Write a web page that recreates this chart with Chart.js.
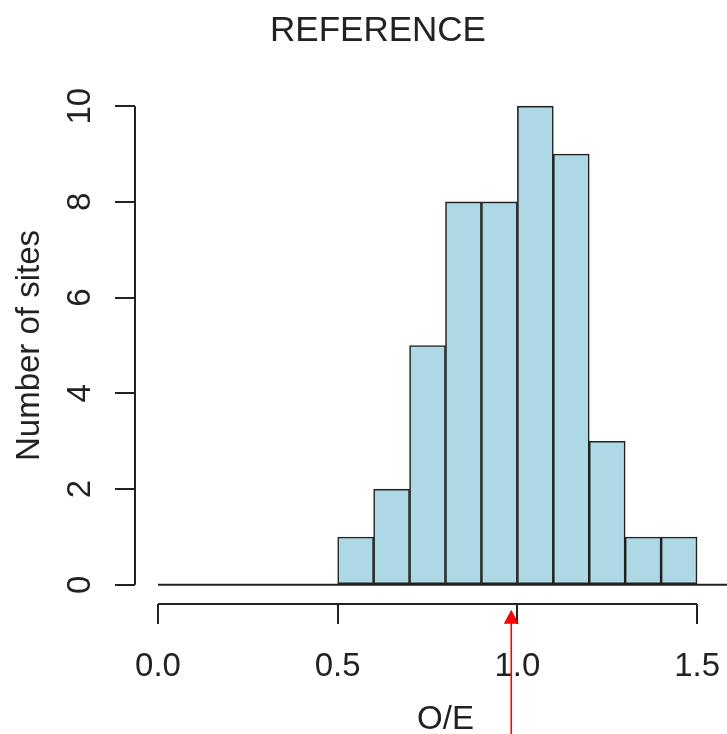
<!DOCTYPE html>
<html lang="en">
<head>
    <meta charset="UTF-8">
    <title>REFERENCE</title>
    <style>
        html, body {
            margin: 0;
            padding: 0;
            background: white;
            overflow: hidden;
        }
        canvas {
            display: block;
        }
    </style>
</head>
<body>
    <canvas id="histChart" width="890" height="734"></canvas>

    <script src="https://cdn.jsdelivr.net/npm/chart.js"></script>
    <script>
        // histogram bins (O/E), counts per bin
        const breaks = [0.0, 0.1, 0.2, 0.3, 0.4, 0.5, 0.6, 0.7, 0.8, 0.9, 1.0, 1.1, 1.2, 1.3, 1.4, 1.5, 1.6];
        const counts = [0, 0, 0, 0, 0, 1, 2, 5, 8, 8, 10, 9, 3, 1, 1, 0];
        const xTicks = [0.0, 0.5, 1.0, 1.5];
        const yTicks = [0, 2, 4, 6, 8, 10];
        const markerValue = 0.983;   // red arrow position on O/E axis

        const ink = '#222';
        const fontFamily = '"Liberation Sans", Arial, sans-serif';

        const xRange = breaks[breaks.length - 1] - breaks[0];
        const yTop = Math.max(...counts);

        const binData = counts.map((c, i) => ({ x: (breaks[i] + breaks[i + 1]) / 2, y: c }));
        const baseData = breaks.map(b => ({ x: b, y: 0 }));

        // R-like axis lines (only between first and last tick) and the red arrow
        const axisLines = {
            id: 'axisLines',
            afterDraw(chart) {
                const { ctx, chartArea, scales: { x, y } } = chart;
                ctx.save();
                ctx.strokeStyle = ink;
                ctx.lineWidth = 2;
                ctx.beginPath();
                ctx.moveTo(chartArea.left, y.getPixelForValue(yTicks[0]));
                ctx.lineTo(chartArea.left, y.getPixelForValue(yTicks[yTicks.length - 1]));
                ctx.moveTo(x.getPixelForValue(xTicks[0]), chartArea.bottom);
                ctx.lineTo(x.getPixelForValue(xTicks[xTicks.length - 1]), chartArea.bottom);
                ctx.stroke();

                const ax = x.getPixelForValue(markerValue);
                const tip = y.getPixelForValue(-0.52);
                const tail = y.getPixelForValue(-3.5);
                ctx.strokeStyle = '#ff0000';
                ctx.fillStyle = '#ff0000';
                ctx.lineWidth = 1.6;
                ctx.beginPath();
                ctx.moveTo(ax, tail);
                ctx.lineTo(ax, tip + 10);
                ctx.stroke();
                ctx.beginPath();
                ctx.moveTo(ax, tip);
                ctx.lineTo(ax - 7.5, tip + 14);
                ctx.lineTo(ax + 7.5, tip + 14);
                ctx.closePath();
                ctx.fill();
                ctx.restore();
            }
        };

        new Chart(document.getElementById('histChart'), {
            type: 'bar',
            data: {
                datasets: [{
                    label: 'Number of sites',
                    data: binData,
                    backgroundColor: 'lightblue',
                    borderColor: ink,
                    borderWidth: 1.6,
                    borderSkipped: false,
                    barPercentage: 1,
                    categoryPercentage: 1,
                    order: 2
                }, {
                    type: 'line',
                    data: baseData,
                    borderColor: ink,
                    borderWidth: 2,
                    pointRadius: 0,
                    order: 1
                }]
            },
            options: {
                responsive: false,
                animation: false,
                layout: { padding: { left: 0, right: 134, top: 0, bottom: 0 } },
                plugins: {
                    legend: { display: false },
                    tooltip: { enabled: false },
                    title: {
                        display: true,
                        text: 'REFERENCE',
                        color: ink,
                        font: { family: fontFamily, size: 35, weight: 'normal', lineHeight: 1.2 },
                        padding: { top: 10.5, bottom: 34.5 }
                    }
                },
                scales: {
                    x: {
                        type: 'linear',
                        offset: false,
                        min: breaks[0] - 0.04 * xRange,
                        max: breaks[breaks.length - 1] + 0.04 * xRange,
                        afterBuildTicks: s => { s.ticks = xTicks.map(v => ({ value: v })); },
                        afterFit: s => { s.height = 130; },
                        border: { display: false },
                        grid: {
                            offset: false,
                            drawOnChartArea: false,
                            drawTicks: true,
                            tickLength: 20,
                            tickColor: ink,
                            lineWidth: 2
                        },
                        ticks: {
                            color: ink,
                            padding: 23,
                            maxRotation: 0,
                            font: { family: fontFamily, size: 33, lineHeight: 1.2 },
                            callback: v => v.toFixed(1)
                        },
                        title: {
                            display: true,
                            text: 'O/E',
                            color: ink,
                            font: { family: fontFamily, size: 33, lineHeight: 0.8 },
                            padding: { top: 0, bottom: 1 }
                        }
                    },
                    y: {
                        type: 'linear',
                        min: -0.04 * yTop,
                        max: yTop * 1.04,
                        afterBuildTicks: s => { s.ticks = yTicks.map(v => ({ value: v })); },
                        afterFit: s => { s.width = 135; },
                        border: { display: false },
                        grid: {
                            drawOnChartArea: false,
                            drawTicks: true,
                            tickLength: 20,
                            tickColor: ink,
                            lineWidth: 2
                        },
                        ticks: {
                            color: ink,
                            padding: 16,
                            minRotation: 90,
                            maxRotation: 90,
                            crossAlign: 'center',
                            font: { family: fontFamily, size: 33, lineHeight: 1.2 },
                            callback: v => String(v)
                        },
                        title: {
                            display: true,
                            text: 'Number of sites',
                            color: ink,
                            font: { family: fontFamily, size: 33, lineHeight: 1.2 },
                            padding: { top: 10, bottom: 0 }
                        }
                    }
                }
            },
            plugins: [axisLines]
        });
    </script>
</body>
</html>
